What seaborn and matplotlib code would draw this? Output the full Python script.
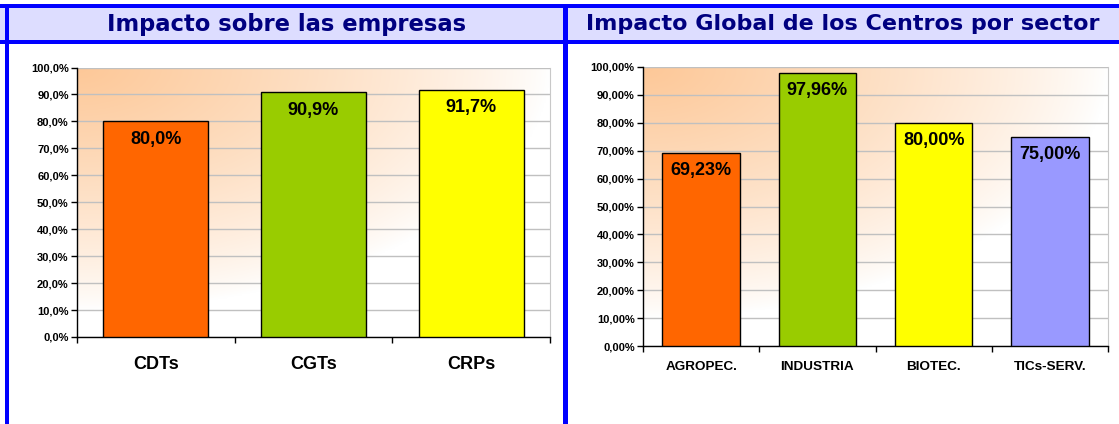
import numpy as np
import pandas as pd
import matplotlib
matplotlib.use("Agg")
import matplotlib.pyplot as plt
import seaborn as sns
from matplotlib.ticker import FuncFormatter, FixedLocator

# Data
left_title = "Impacto sobre las empresas"
left_cats = ["CDTs", "CGTs", "CRPs"]
left_vals = [80.0, 90.9, 91.7]
left_colors = ["#FF6600", "#99CC00", "#FFFF00"]

right_title = "Impacto Global de los Centros por sector"
right_cats = ["AGROPEC.", "INDUSTRIA", "BIOTEC.", "TICs-SERV."]
right_vals = [69.23, 97.96, 80.00, 75.00]
right_colors = ["#FF6600", "#99CC00", "#FFFF00", "#9999FF"]

sns.set_style("white")
plt.rcParams["font.family"] = ["Liberation Sans", "DejaVu Sans"]
for k in ["text.color", "axes.labelcolor", "xtick.color", "ytick.color"]:
    plt.rcParams[k] = "black"

W, H = 1119, 424
fig = plt.figure(figsize=(W / 100, H / 100), dpi=100)
fig.patch.set_facecolor("white")


def px_rect(x0, y0, x1, y1, color, z=5):
    # rectangle in pixel coords (origin top-left)
    fig.patches.append(plt.Rectangle((x0 / W, 1 - y1 / H), (x1 - x0) / W, (y1 - y0) / H,
                                     transform=fig.transFigure, color=color, lw=0, zorder=z))


# header band and blue frame
px_rect(0, 8, W, 40, "#DDDDFF", z=1)
px_rect(0, 4, W, 8, "#0000FF")
px_rect(0, 40, W, 44, "#0000FF")
px_rect(5, 4, 9, H, "#0000FF")
px_rect(563, 4, 568, H, "#0000FF")

fig.text(287 / W, 1 - 24 / H, left_title, ha="center", va="center", color="#000080",
         fontsize=16.3, fontweight="bold", family="DejaVu Sans")
fig.text(843 / W, 1 - 24 / H, right_title, ha="center", va="center", color="#000080",
         fontsize=16, fontweight="bold", family="DejaVu Sans")

# soft orange wash from the top-left corner of the plot area (row 0 = top)
gx, gy = np.meshgrid(np.linspace(0, 1, 300), np.linspace(0, 1, 200))
r = np.sqrt((gx / 1.0) ** 2 + (gy / 0.9) ** 2)
t = np.clip(1 - r, 0, 1) ** 0.8
orange = np.array([253, 200, 152]) / 255.0
grad = np.ones((200, 300, 3)) * (1 - t[..., None]) + orange * t[..., None]


def draw(ax, cats, vals, colors, decimals, cat_size, cat_pad, lab_off):
    df = pd.DataFrame({"cat": cats, "val": vals})
    n = len(cats)
    ax.imshow(grad, extent=(-0.5, n - 0.5, 0, 100), origin="upper", aspect="auto", zorder=0)
    sns.barplot(data=df, x="cat", y="val", hue="cat", palette=colors, legend=False,
                saturation=1, width=0.667, edgecolor="black", linewidth=1, ax=ax, zorder=3)
    ax.set_xlim(-0.5, n - 0.5)
    ax.set_ylim(0, 100)
    ax.set_xlabel("")
    ax.set_ylabel("")
    ax.set_yticks(np.arange(0, 101, 10))
    ax.yaxis.set_major_formatter(FuncFormatter(
        lambda v, p: f"{v:.{decimals}f}%".replace(".", ",")))
    ax.grid(axis="y", color="#C0C0C0", linewidth=1, zorder=1)
    ax.set_axisbelow(True)
    for s in ["left", "bottom"]:
        ax.spines[s].set_color("black")
        ax.spines[s].set_linewidth(1)
    ax.spines["right"].set_color("#C8C8C8")
    ax.spines["top"].set_visible(False)
    ax.tick_params(axis="y", direction="out", length=4, width=1, color="black",
                   labelsize=8, pad=2, left=True)
    for lb in ax.get_yticklabels():
        lb.set_fontweight("bold")
    ax.tick_params(axis="x", length=0, labelsize=cat_size, pad=cat_pad)
    for lb in ax.get_xticklabels():
        lb.set_fontweight("bold")
    ax.xaxis.set_minor_locator(FixedLocator(np.arange(-0.5, n, 1.0)))
    ax.tick_params(axis="x", which="minor", direction="out", length=4, width=1,
                   color="black", bottom=True)
    for i, v in enumerate(vals):
        ax.annotate(f"{v:.{decimals}f}%".replace(".", ","), (i, v), xytext=(0, -lab_off),
                    textcoords="offset pixels", ha="center", va="center",
                    fontsize=13, fontweight="bold", zorder=5)


ax1 = fig.add_axes([77 / W, 1 - 337 / H, (550 - 77) / W, (337 - 67.5) / H])
draw(ax1, left_cats, left_vals, left_colors, 1, 13, 14, 18)

ax2 = fig.add_axes([643 / W, 1 - 346 / H, (1108 - 643) / W, (346 - 67) / H])
draw(ax2, right_cats, right_vals, right_colors, 2, 9.7, 11, 18)

fig.savefig("out.png", dpi=100)
